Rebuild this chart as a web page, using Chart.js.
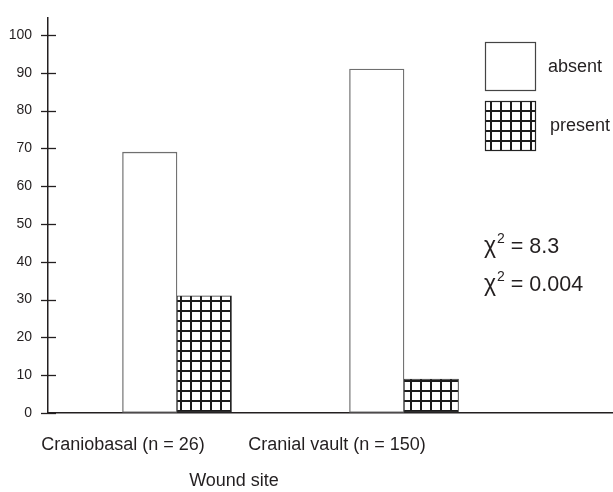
<!DOCTYPE html>
<html><head><meta charset="utf-8">
<script src="https://cdn.jsdelivr.net/npm/chart.js@4.4.1/dist/chart.umd.min.js"></script>
<style>html,body{margin:0;padding:0;background:#fff}#wrap{width:613px;height:492px;position:relative}canvas{display:block}</style>
</head><body><div id="wrap"><canvas id="c" width="613" height="492" style="width:613px;height:492px"></canvas></div>
<script>
const categories = ['Craniobasal (n = 26)', 'Cranial vault (n = 150)'];
const seriesNames = ['absent', 'present'];
const absentValues = [69, 91];
const presentValues = [31, 9];
const yTickValues = [0, 10, 20, 30, 40, 50, 60, 70, 80, 90, 100];
const chiValues = ['8.3', '0.004'];
const xAxisTitle = 'Wound site';

const TEXT = '#231f20';
const FONT = "'Liberation Sans', Arial, sans-serif";

function makeGrid() {
  const c = document.createElement('canvas');
  c.width = 10; c.height = 10;
  const g = c.getContext('2d');
  g.fillStyle = '#fff'; g.fillRect(0, 0, 10, 10);
  g.fillStyle = '#1c1c1c';
  g.fillRect(0, 0, 2, 10);
  g.fillRect(0, 0, 10, 2);
  return document.getElementById('c').getContext('2d').createPattern(c, 'repeat');
}
const gridPattern = makeGrid();

// category positions on a linear x scale (1 and 2)
const catPos = categories.map((_, i) => i + 1);
const labelPos = [0.762, 1.705];

const decor = {
  id: 'decor',
  afterDraw(chart) {
    const ctx = chart.ctx;
    const y = chart.scales.y;
    const ca = chart.chartArea;
    ctx.save();
    ctx.strokeStyle = TEXT; ctx.lineWidth = 1.3;
    yTickValues.forEach(v => {
      const py = Math.round(y.getPixelForValue(v)) + 0.5;
      ctx.beginPath(); ctx.moveTo(ca.left - 7, py); ctx.lineTo(ca.left + 8, py); ctx.stroke();
    });
    const ds = chart.data.datasets;
    const boxes = [{x: 485, y: 42, w: 50, h: 48}, {x: 485, y: 101, w: 50, h: 49}];
    const textPos = [{x: 548, y: 67}, {x: 550, y: 126}];
    ds.forEach((d, i) => {
      const b = boxes[i];
      ctx.fillStyle = d.backgroundColor;
      ctx.fillRect(b.x, b.y, b.w, b.h);
      ctx.strokeStyle = i === 0 ? '#444' : '#222';
      ctx.lineWidth = 1.2;
      ctx.strokeRect(b.x + 0.5, b.y + 0.5, b.w, b.h);
      ctx.fillStyle = TEXT;
      ctx.font = '18px ' + FONT;
      ctx.textBaseline = 'middle';
      ctx.textAlign = 'left';
      ctx.fillText(d.label, textPos[i].x, textPos[i].y);
    });
    const chiY = [245, 283];
    chiValues.forEach((v, i) => {
      let x = 484;
      const yy = chiY[i] + 8;
      ctx.textBaseline = 'alphabetic';
      ctx.font = '23px ' + FONT;
      ctx.fillStyle = TEXT;
      ctx.fillText('\u03c7', x, yy);
      x += ctx.measureText('\u03c7').width + 1;
      ctx.font = '14px ' + FONT;
      ctx.fillText('2', x, yy - 10);
      x += ctx.measureText('2').width;
      ctx.font = '21.5px ' + FONT;
      ctx.fillText(' = ' + v, x, yy);
    });
    ctx.font = '18px ' + FONT;
    ctx.textAlign = 'center';
    ctx.textBaseline = 'middle';
    ctx.fillText(xAxisTitle, 234, 481);
    ctx.restore();
  }
};

new Chart(document.getElementById('c'), {
  type: 'bar',
  data: {
    datasets: [
      { label: seriesNames[0], data: catPos.map((x, i) => ({x, y: absentValues[i]})),
        backgroundColor: '#ffffff', borderColor: '#6f6f6f', borderWidth: 1.3, borderSkipped: false,
        barThickness: 54.5 },
      { label: seriesNames[1], data: catPos.map((x, i) => ({x, y: presentValues[i]})),
        backgroundColor: gridPattern, borderColor: '#2a2a2a', borderWidth: 1, borderSkipped: false,
        barThickness: 54.5 }
    ]
  },
  options: {
    responsive: false,
    maintainAspectRatio: false,
    animation: false,
    devicePixelRatio: 1,
    layout: { padding: { top: 18, left: 0, right: 0, bottom: 0 } },
    plugins: { legend: { display: false }, tooltip: { enabled: false } },
    scales: {
      x: {
        type: 'linear', min: 0.4317, max: 2.9207, offset: false,
        afterBuildTicks(s) { s.ticks = labelPos.map(v => ({value: v})); },
        afterFit(s) { s.height = 79; },
        ticks: { callback: (v, i) => categories[i], color: TEXT, font: { family: FONT, size: 18 }, padding: 21, maxRotation: 0, autoSkip: false },
        grid: { display: false, drawTicks: false },
        border: { display: true, color: TEXT, width: 1.5 }
      },
      y: {
        min: 0, max: 104.5,
        afterBuildTicks(s) { s.ticks = yTickValues.map(v => ({value: v})); },
        afterFit(s) { s.width = 48; },
        ticks: { color: TEXT, font: { family: FONT, size: 14 }, padding: 0 },
        grid: { display: true, drawOnChartArea: false, drawTicks: true, tickLength: 16, tickColor: 'rgba(0,0,0,0)' },
        border: { display: true, color: TEXT, width: 1.5 }
      }
    }
  },
  plugins: [decor]
});
</script></body></html>
